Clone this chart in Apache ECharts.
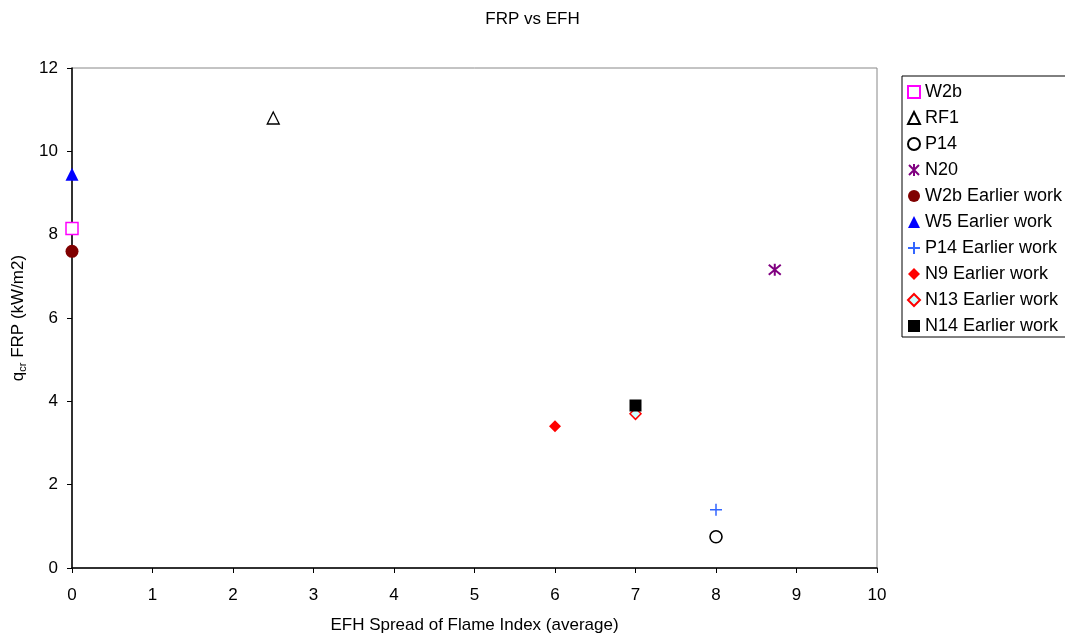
<!DOCTYPE html>
<html><head><meta charset="utf-8">
<script src="https://cdn.jsdelivr.net/npm/echarts@6/dist/echarts.min.js"></script>
<style>html,body{margin:0;padding:0;background:#fff}#c{width:1065px;height:636px}</style>
</head><body><div id="c"></div>
<script>
const seriesNames = ['W2b','RF1','P14','N20','W2b Earlier work','W5 Earlier work','P14 Earlier work','N9 Earlier work','N13 Earlier work','N14 Earlier work'];
const W2b = [[0, 8.15]];
const RF1 = [[2.5, 10.8]];
const P14 = [[8, 0.75]];
const N20 = [[8.73, 7.16]];
const W2bEarlier = [[0, 7.6]];
const W5Earlier = [[0, 9.45]];
const P14Earlier = [[8, 1.4]];
const N9Earlier = [[6, 3.4]];
const N13Earlier = [[7, 3.7]];
const N14Earlier = [[7, 3.9]];
const xTicks = [0,1,2,3,4,5,6,7,8,9,10];
const yTicks = [0,2,4,6,8,10,12];

const FONT = 'Liberation Sans, Arial, sans-serif';
const FS = 17;
const asterisk = 'path://M0,0L10,10M10,0L0,10M5,-1L5,11';
const plus = 'path://M5,0L5,10M0,5L10,5';

function S(name, data, symbol, size, style){
  return {name, type:'scatter', data, symbol, symbolSize:size, itemStyle:Object.assign({opacity:1}, style), emphasis:{disabled:true}};
}
const series = [
  S(seriesNames[0], W2b, 'rect', 12, {color:'#fff', borderColor:'#FF00FF', borderWidth:1.5}),
  S(seriesNames[1], RF1, 'triangle', 12, {color:'#fff', borderColor:'#000', borderWidth:1.3}),
  S(seriesNames[2], P14, 'circle', 12, {color:'#fff', borderColor:'#000', borderWidth:1.6}),
  S(seriesNames[3], N20, asterisk, 12, {color:'transparent', borderColor:'#800080', borderWidth:2}),
  S(seriesNames[4], W2bEarlier, 'circle', 13, {color:'#800000'}),
  S(seriesNames[5], W5Earlier, 'triangle', 13, {color:'#0000FF'}),
  S(seriesNames[6], P14Earlier, plus, 12, {color:'transparent', borderColor:'#3366FF', borderWidth:1.5}),
  S(seriesNames[7], N9Earlier, 'diamond', 12, {color:'#FF0000'}),
  S(seriesNames[8], N13Earlier, 'diamond', 11, {color:'#CCFFFF', borderColor:'#FF0000', borderWidth:1.5}),
  S(seriesNames[9], N14Earlier, 'rect', 12, {color:'#000'})
];

const chart = echarts.init(document.getElementById('c'), null, {renderer:'canvas'});
chart.setOption({
  animation:false,
  backgroundColor:'#fff',
  textStyle:{fontFamily:FONT},
  title:{text:'FRP vs EFH', left:'center', top:6, textStyle:{fontFamily:FONT, fontSize:FS, fontWeight:'normal', color:'#000'}},
  grid:{left:72, right:188, top:68, bottom:68, show:true, borderColor:'#888', borderWidth:1, backgroundColor:'transparent', outerBoundsMode:'none', containLabel:false},
  xAxis:{type:'value', min:0, max:10, interval:1,
    name:'EFH Spread of Flame Index (average)', nameLocation:'middle', nameGap:49,
    nameTextStyle:{fontFamily:FONT, fontSize:FS, color:'#000'},
    axisLine:{show:true, onZero:false, lineStyle:{color:'#000', width:1.5}},
    axisTick:{show:true, length:5, lineStyle:{color:'#000'}},
    axisLabel:{fontFamily:FONT, fontSize:FS, color:'#000', margin:19},
    splitLine:{show:false}},
  yAxis:{type:'value', min:0, max:12, interval:2,
    name:'{a|q}{s|cr}{a| FRP (kW/m2)}', nameLocation:'middle', nameGap:42,
    nameTextStyle:{fontFamily:FONT, fontSize:FS, color:'#000',
      rich:{a:{fontFamily:FONT, fontSize:FS, color:'#000'}, s:{fontFamily:FONT, fontSize:11, color:'#000', verticalAlign:'bottom', padding:[8,0,0,0]}}},
    axisLine:{show:true, onZero:false, lineStyle:{color:'#000', width:1.5}},
    axisTick:{show:true, length:5, lineStyle:{color:'#000'}},
    axisLabel:{fontFamily:FONT, fontSize:FS, color:'#000', margin:14},
    splitLine:{show:false}},
  legend:{orient:'vertical', left:902, top:76,
    padding:[7,4,2,5], borderColor:'#000', borderWidth:1, backgroundColor:'#fff',
    itemWidth:12, itemHeight:12, itemGap:8,
    textStyle:{fontFamily:FONT, fontSize:18, lineHeight:16, color:'#000'},
    data:seriesNames},
  series
});
</script></body></html>
